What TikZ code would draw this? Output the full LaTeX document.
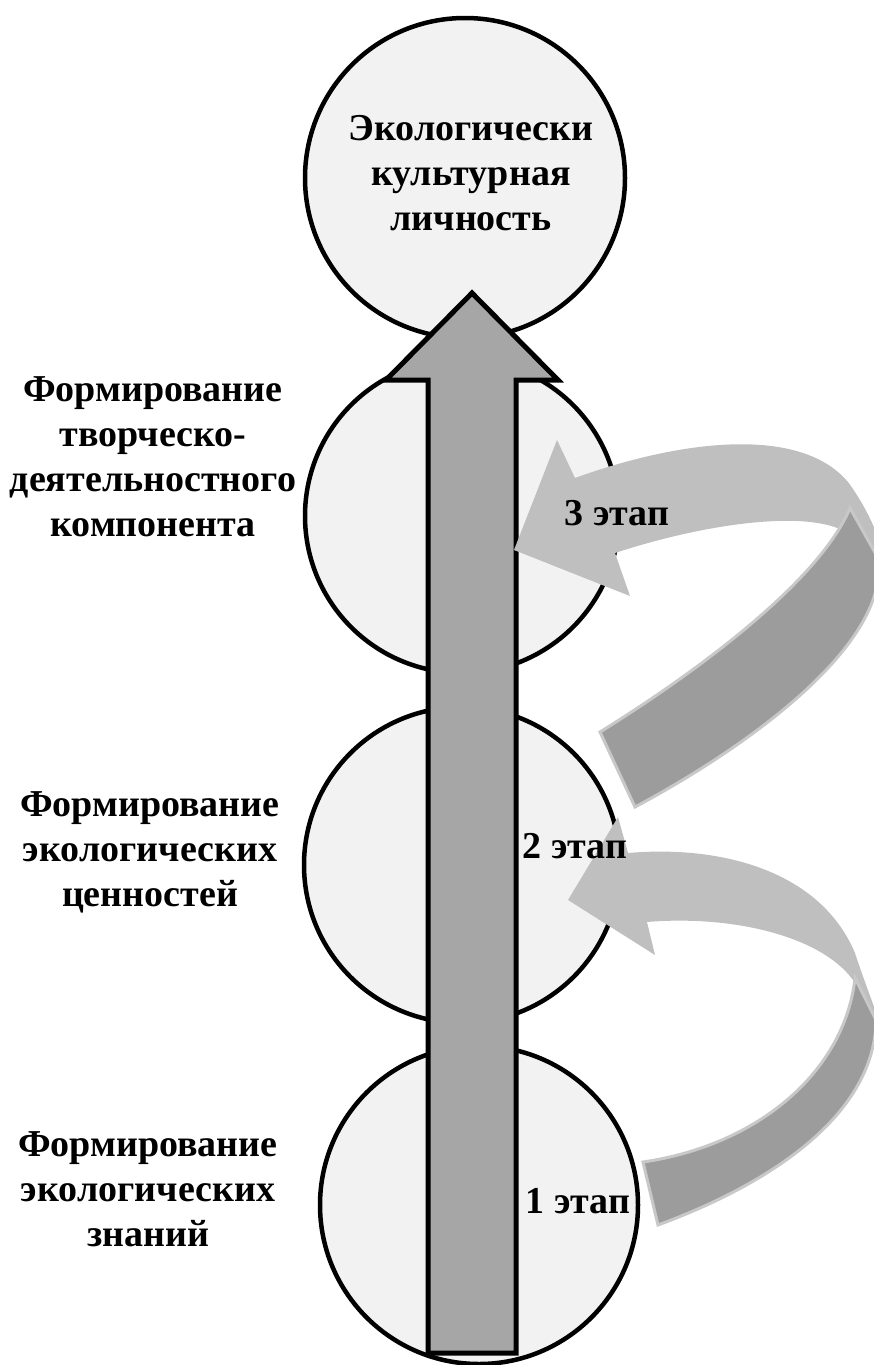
\documentclass[tikz,border=0pt]{standalone}
\usepackage{fontspec}
\setmainfont{Liberation Serif}
\definecolor{circfill}{HTML}{F2F2F2}
\definecolor{arrowfill}{HTML}{A6A6A6}
\definecolor{lightband}{HTML}{BFBFBF}
\definecolor{darkband}{HTML}{9C9C9C}
\definecolor{darkborder}{HTML}{C8C8C8}
\begin{document}
\begin{tikzpicture}[x=1pt,y=-1pt,
  stagecirc/.style={circle, draw=black, line width=4.5pt, fill=circfill, minimum size=#1, inner sep=0pt},
  lbl/.style={align=center, font=\fontsize{38}{45}\selectfont\bfseries, inner sep=0pt},
  mainarrow/.style={draw=black, line width=5pt, fill=arrowfill, line join=miter},
  topband/.style={fill=lightband},
  backband/.style={fill=darkband, draw=darkborder, line width=3pt, line join=miter}]
\useasboundingbox (0,0) rectangle (874,1365);
% circles
\node[stagecirc=320pt] (c0) at (465,178) {};
\node[stagecirc=314pt] (c1) at (462,516) {};
\node[stagecirc=316pt] (c2) at (462,865) {};
\node[stagecirc=318pt] (c3) at (479,1205) {};
% main arrow
\draw[mainarrow] (428,1353) -- (428,380) -- (386,380) -- (472,293) -- (558,380) -- (516,380) -- (516,1353) -- cycle;
% upper curved arrow
\fill[topband] (514,550) -- (557,440) -- (575,478) .. controls (680,440) and (800,425) .. (848,482) .. controls (865,505) and (880,535) .. (886,565) -- (845,545) -- (842,530) .. controls (800,510) and (700,525) .. (615,553) -- (630,596) -- cycle;
\filldraw[backband] (850,508) .. controls (820,580) and (700,670) .. (600,732) -- (635,807) .. controls (760,740) and (890,640) .. (878,558) -- cycle;
% lower curved arrow
\fill[topband] (568,900) -- (618,817) -- (628,853) .. controls (720,845) and (820,870) .. (855,953) .. controls (862,975) and (872,1000) .. (882,1030) -- (860,1000) -- (853,980) .. controls (820,935) and (730,915) .. (647,922) -- (655,955) -- cycle;
\filldraw[backband] (855,978) .. controls (845,1070) and (760,1145) .. (643,1162) -- (658,1225) .. controls (780,1180) and (875,1110) .. (876,1020) -- cycle;
% texts
\node[lbl] (t0) at (471,173) {Экологически\\культурная\\личность};
\node[lbl] (ta) at (153,457) {Формирование\\творческо-\\деятельностного\\компонента};
\node[lbl] (tb) at (150,852) {Формирование\\экологических\\ценностей};
\node[lbl] (tc) at (148,1189) {Формирование\\экологических\\знаний};
\node[lbl] (s3) at (617,513) {3 этап};
\node[lbl] (s2) at (575,846) {2 этап};
\node[lbl] (s1) at (578,1201) {1 этап};
\end{tikzpicture}
\end{document}
